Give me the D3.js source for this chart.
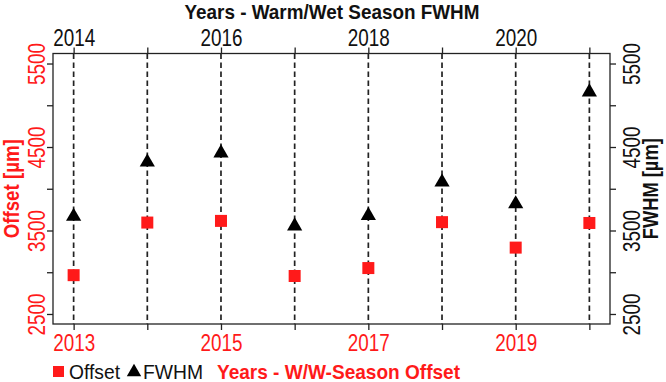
<!DOCTYPE html>
<html><head><meta charset="utf-8">
<script src="https://cdn.jsdelivr.net/npm/d3@7"></script>
<style>
html,body{margin:0;padding:0;background:#fff;}
text{font-family:"Liberation Sans",Arial,sans-serif;}
</style></head>
<body><svg id="c" width="666" height="382"></svg>
<script>
const years = [2013, 2014, 2015, 2016, 2017, 2018, 2019, 2020];
const offsetVals = [2965, 3595, 3615, 2955, 3050, 3600, 3295, 3590];
const fwhmVals = [3680, 4330, 4440, 3565, 3690, 4090, 3830, 5170];
const bottomTickLabels = [2013, 2015, 2017, 2019];
const topTickLabels = [2014, 2016, 2018, 2020];
const yTicks = [2500, 3000, 3500, 4000, 4500, 5000, 5500];
const yTickLabels = [2500, 3500, 4500, 5500];

const RED = "#ff1a1a";
const svg = d3.select("#c");
const L = 53, R = 610, T = 53.5, B = 324;
const xExt = (2020 - 2013) * 0.04, yExt = (5500 - 2500) * 0.04;
const x = d3.scaleLinear().domain([2013 - xExt, 2020 + xExt]).range([L, R]);
const y = d3.scaleLinear().domain([2500 - yExt, 5500 + yExt]).range([B, T]);

function narrow(sel, w) {
  sel.attr("textLength", w).attr("lengthAdjust", "spacingAndGlyphs");
}

// dashed verticals
svg.append("g").selectAll("line").data(years).join("line")
  .attr("x1", d => x(d)).attr("x2", d => x(d)).attr("y1", T).attr("y2", B)
  .attr("stroke", "#222").attr("stroke-width", 1.7).attr("stroke-dasharray", "5.5,3.5");

// box
svg.append("rect").attr("x", L).attr("y", T).attr("width", R - L).attr("height", B - T)
  .attr("fill", "none").attr("stroke", "#222").attr("stroke-width", 1.3);

// axes
const axB = d3.axisBottom(x).tickValues(years).tickSize(6).tickFormat(d => bottomTickLabels.includes(d) ? d : "");
const axT = d3.axisTop(x).tickValues(years).tickSize(6).tickFormat(d => topTickLabels.includes(d + 1) ? (d + 1) : "");
const axL = d3.axisLeft(y).tickValues(yTicks).tickSize(6).tickFormat(d => yTickLabels.includes(d) ? d : "");
const axR = d3.axisRight(y).tickValues(yTicks).tickSize(6).tickFormat(d => yTickLabels.includes(d) ? d : "");

function style(g, color) {
  g.select(".domain").remove();
  g.selectAll(".tick line").attr("stroke", "#222").attr("stroke-width", 1.3);
  g.selectAll("text").attr("fill", color).style("font-size", "23px")
    .style("font-family", '"Liberation Sans",Arial,sans-serif');
  g.selectAll("text").filter(function () { return this.textContent !== ""; }).call(narrow, 42);
}
const gB = svg.append("g").attr("transform", `translate(0,${B})`).call(axB);
style(gB, RED);
gB.selectAll("text").attr("dy", 0).attr("y", 27);
const gT = svg.append("g").attr("transform", `translate(0,${T})`).call(axT);
style(gT, "#111");
gT.selectAll("text").attr("y", -8).attr("dy", "0");
const gL = svg.append("g").attr("transform", `translate(${L},0)`).call(axL);
style(gL, RED);
gL.selectAll("text").attr("x", 0).attr("dy", 0).attr("text-anchor", "middle")
  .attr("transform", "translate(-8,0) rotate(-90)");
const gR = svg.append("g").attr("transform", `translate(${R},0)`).call(axR);
style(gR, "#111");
gR.selectAll("text").attr("x", 0).attr("dy", 0).attr("text-anchor", "middle")
  .attr("transform", "translate(30,0) rotate(-90)");

// points
svg.append("g").selectAll("rect").data(years).join("rect")
  .attr("x", (d, i) => x(d) - 6).attr("y", (d, i) => y(offsetVals[i]) - 6)
  .attr("width", 12).attr("height", 12).attr("fill", RED);
const tri = d3.symbol().type(d3.symbolTriangle).size(100);
svg.append("g").selectAll("path").data(years).join("path")
  .attr("d", tri).attr("transform", (d, i) => `translate(${x(d)},${y(fwhmVals[i]) + 1})`)
  .attr("fill", "#000");

// titles
svg.append("text").attr("x", 332).attr("y", 19).attr("text-anchor", "middle")
  .style("font-size", "21px").style("font-weight", "bold").attr("fill", "#111")
  .text("Years - Warm/Wet Season FWHM").call(narrow, 295);
svg.append("text").attr("transform", `translate(19,${(T + B) / 2}) rotate(-90)`)
  .attr("text-anchor", "middle").style("font-size", "22px").style("font-weight", "bold")
  .attr("fill", RED).text("Offset [µm]").call(narrow, 99);
svg.append("text").attr("transform", `translate(658,${(T + B) / 2}) rotate(-90)`)
  .attr("text-anchor", "middle").style("font-size", "22px").style("font-weight", "bold")
  .attr("fill", "#111").text("FWHM [µm]").call(narrow, 101);

// legend
const lg = svg.append("g");
lg.append("rect").attr("x", 53).attr("y", 366).attr("width", 11).attr("height", 11).attr("fill", RED);
lg.append("text").attr("x", 69).attr("y", 379).style("font-size", "21px").attr("fill", "#111").text("Offset").call(narrow, 51);
lg.append("path").attr("d", d3.symbol().type(d3.symbolTriangle).size(90)).attr("transform", "translate(134,372)").attr("fill", "#000");
lg.append("text").attr("x", 143).attr("y", 379).style("font-size", "21px").attr("fill", "#111").text("FWHM").call(narrow, 60);
lg.append("text").attr("x", 217).attr("y", 379).style("font-size", "21px").style("font-weight", "bold")
  .attr("fill", RED).text("Years - W/W-Season Offset").call(narrow, 243);
</script></body></html>
